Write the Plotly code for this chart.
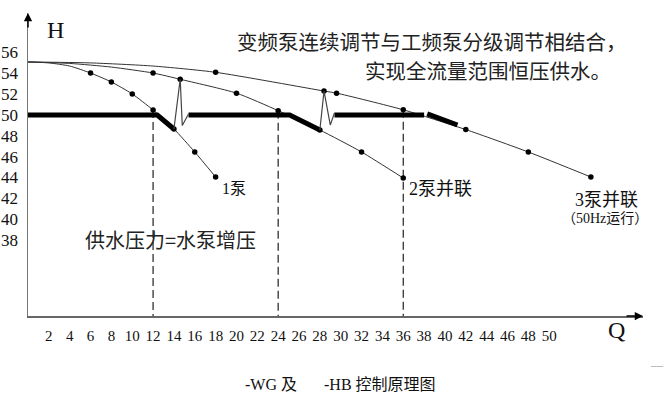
import plotly.graph_objects as go

# ---- data (Q = flow, H = head) ----
c1_q = [0, 2, 4, 6, 8, 10, 12, 14, 16, 18]
c1_h = [55.09, 55.0, 54.7, 54.03, 53.17, 52.02, 50.48, 48.66, 46.45, 44.05]
c1_dot_q = [6, 8, 10, 12, 14, 16, 18]

c2_q = [0, 4, 8, 12, 14.6, 20, 24, 28, 32, 36]
c2_h = [55.09, 54.95, 54.6, 54.03, 53.43, 52.1, 50.42, 48.56, 46.45, 43.95]
c2_dot_q = [12, 14.6, 20, 24, 28, 32, 36]

c3_q = [0, 6, 12, 18, 28.4, 29.6, 36, 42, 48, 54]
c3_h = [55.09, 55.0, 54.7, 54.1, 52.3, 52.1, 50.5, 48.6, 46.45, 44.05]
c3_dot_q = [18, 28.4, 29.6, 36, 42, 48, 54]

# operating (constant pressure) line, thick segments
op_q = [0, 12.4, 14.0, None, 15.4, 25.1, 28.0, None, 29.4, 38.0, None, 38.3, 41.2]
op_h = [50, 50, 48.66, None, 50, 50, 48.56, None, 50, 50, None, 50.1, 49.04]

# switching transients (thin)
spike_q = [14.0, 14.6, 14.8, 15.4, None, 28.0, 28.4, 29.0, 29.4]
spike_h = [48.66, 53.43, 49.0, 50.1, None, 48.56, 52.3, 49.04, 50.2]

switch_q = [12, 24, 36]

x_ticks = list(range(2, 51, 2))
y_ticks = list(range(38, 57, 2))

x_range = [0, 59]
y_range = [30.71, 59.79]

SERIF = "Liberation Serif, Noto Sans CJK SC, serif"
CJK = "Noto Sans CJK SC, sans-serif"
INK = "#111111"
LINE = "#333333"


def dots(qs, hs, sel):
    return [hs[qs.index(q)] for q in sel]


fig = go.Figure()

# dashed switch lines
for q, (cq, ch) in zip(switch_q, [(c1_q, c1_h), (c2_q, c2_h), (c3_q, c3_h)]):
    top = ch[cq.index(q)]
    fig.add_trace(go.Scatter(x=[q, q], y=[top, y_range[0]], mode="lines",
                             line=dict(color="#222222", width=1.2, dash="8px,4px"),
                             hoverinfo="skip"))

# pump curves
for cq, ch, dq in [(c1_q, c1_h, c1_dot_q), (c2_q, c2_h, c2_dot_q), (c3_q, c3_h, c3_dot_q)]:
    fig.add_trace(go.Scatter(x=cq, y=ch, mode="lines",
                             line=dict(color=LINE, width=1, shape="spline", smoothing=0.6),
                             hoverinfo="skip"))
    fig.add_trace(go.Scatter(x=dq, y=dots(cq, ch, dq), mode="markers",
                             marker=dict(color="#000000", size=5.5),
                             hoverinfo="skip"))

# operating line
fig.add_trace(go.Scatter(x=op_q, y=op_h, mode="lines",
                         line=dict(color="#000000", width=5),
                         connectgaps=False, hoverinfo="skip"))
fig.add_trace(go.Scatter(x=spike_q, y=spike_h, mode="lines",
                         line=dict(color="#444444", width=1.2),
                         connectgaps=False, hoverinfo="skip"))

annotations = [
    dict(x=2.6, y=58.16, text="H", font=dict(family=SERIF, size=24, color=INK),
         xanchor="center", yanchor="middle"),
    dict(x=19.87, y=57.1, text="变频泵连续调节与工频泵分级调节相结合，",
         font=dict(family=CJK, size=20.5, color="#222222"), xanchor="left", yanchor="middle"),
    dict(x=32.15, y=54.32, text="实现全流量范围恒压供水。",
         font=dict(family=CJK, size=20.5, color="#222222"), xanchor="left", yanchor="middle"),
    dict(x=18.4, y=42.9, text="1泵", font=dict(family=SERIF, size=16, color=INK),
         xanchor="left", yanchor="middle"),
    dict(x=36.35, y=42.9, text="2泵并联", font=dict(family=SERIF, size=18, color=INK),
         xanchor="left", yanchor="middle"),
    dict(x=52.3, y=41.84, text="3泵并联", font=dict(family=SERIF, size=18, color=INK),
         xanchor="left", yanchor="middle"),
    dict(x=51.0, y=40.1, text="（50Hz运行）", font=dict(family=SERIF, size=14, color=INK),
         xanchor="left", yanchor="middle"),
    dict(x=5.28, y=38.1, text="供水压力=水泵增压", font=dict(family=CJK, size=20, color="#222222"),
         xanchor="left", yanchor="middle"),
    # axis arrows
    dict(x=0, y=y_range[1], ax=0, ay=16, text="", showarrow=True, arrowhead=2,
         arrowsize=1.1, arrowwidth=1.5, arrowcolor="#000000",
         axref="pixel", ayref="pixel"),
    dict(x=x_range[1], y=y_range[0], ax=-18, ay=0, text="", showarrow=True, arrowhead=2,
         arrowsize=1.1, arrowwidth=1.5, arrowcolor="#000000",
         axref="pixel", ayref="pixel"),
]
for a in annotations:
    a.setdefault("showarrow", False)
    a["xref"] = "x"
    a["yref"] = "y"

# texts outside the plotting area (paper coordinates)
paper_notes = [
    dict(x=0.9576, y=-0.045, text="Q", font=dict(family=SERIF, size=24, color=INK),
         xanchor="center", yanchor="middle"),
    dict(x=0.349, y=-0.2273, text="-WG 及", font=dict(family=SERIF, size=16, color=INK),
         xanchor="left", yanchor="middle"),
    dict(x=0.478, y=-0.2273, text="-HB 控制原理图", font=dict(family=SERIF, size=16, color=INK),
         xanchor="left", yanchor="middle"),
    dict(x=1.022, y=-0.162, text="—", font=dict(family=SERIF, size=12, color="#888888"),
         xanchor="center", yanchor="middle"),
]
for a in paper_notes:
    a["showarrow"] = False
    a["xref"] = "paper"
    a["yref"] = "paper"

fig.update_layout(
    width=666, height=398,
    margin=dict(l=28, r=23, t=13, b=82, autoexpand=False),
    paper_bgcolor="white", plot_bgcolor="white",
    showlegend=False,
    annotations=annotations + paper_notes,
    xaxis=dict(range=x_range, tickvals=x_ticks, ticktext=[str(v) for v in x_ticks],
               showgrid=False, zeroline=False, showline=True, linecolor="#666666",
               linewidth=1.5, ticks="", ticklabelstandoff=5, automargin=False,
               tickfont=dict(family=SERIF, size=15, color=INK), fixedrange=True),
    yaxis=dict(range=y_range, tickvals=y_ticks, ticktext=[str(v) for v in y_ticks],
               showgrid=False, zeroline=False, showline=True, linecolor="#777777",
               linewidth=1.5, ticks="", ticklabelstandoff=5, automargin=False,
               tickfont=dict(family=SERIF, size=17, color=INK), fixedrange=True),
)

fig.write_html(
    "out.html",
    config={"displayModeBar": False, "staticPlot": True},
    post_script="document.body.style.margin='0';document.body.style.overflow='hidden';",
)
